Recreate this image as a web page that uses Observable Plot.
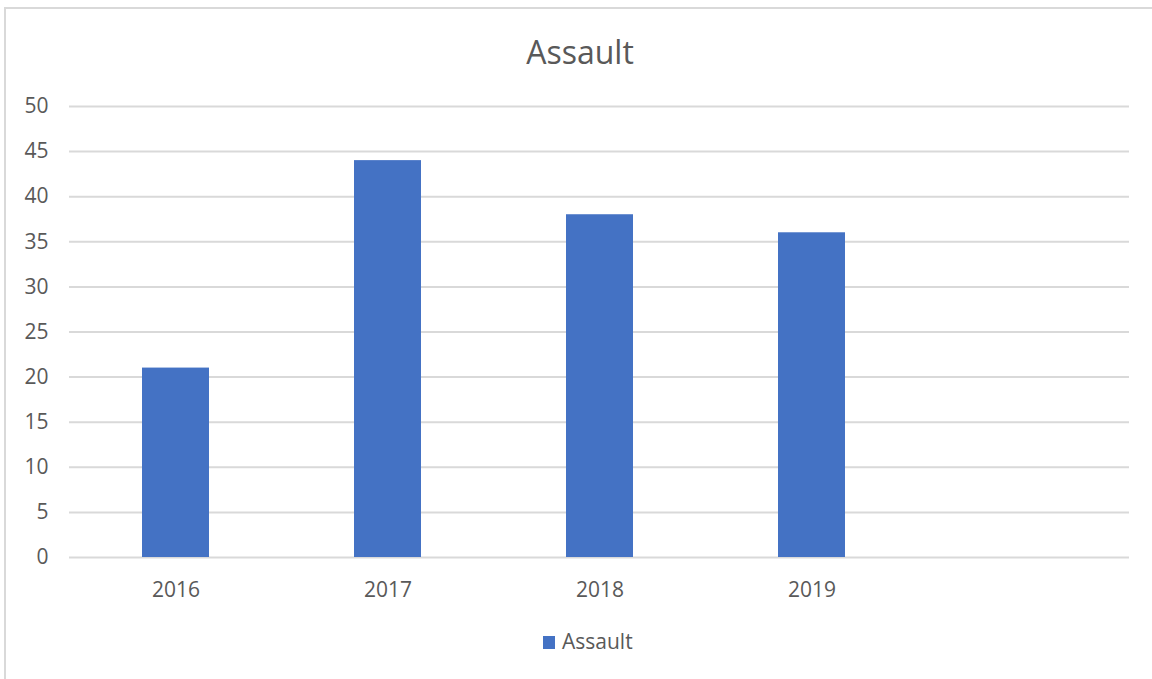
<!DOCTYPE html>
<html>
<head>
<meta charset="utf-8">
<script src="https://cdn.jsdelivr.net/npm/d3@7"></script>
<script src="https://cdn.jsdelivr.net/npm/@observablehq/plot@0.6"></script>
<style>
  html, body { margin: 0; padding: 0; background: #fff; }
  body { width: 1152px; height: 679px; overflow: hidden; position: relative; font-family: "Open Sans", sans-serif; color: #595959; }
  #frame { position: absolute; left: 4px; top: 7px; width: 1200px; height: 700px; border-left: 2px solid #d9d9d9; border-top: 2px solid #d9d9d9; }
  #title { position: absolute; left: 0; top: 36px; width: 1160px; text-align: center; font-size: 32px; line-height: 32px; }
  #chart { position: absolute; left: 0; top: 80px; }
  #legend-swatch { position: absolute; left: 543px; top: 636px; width: 12px; height: 13px; background: #4472C4; }
  #legend-label { position: absolute; left: 562px; top: 631px; font-size: 21px; line-height: 21px; }
</style>
</head>
<body>
<div id="frame"></div>
<div id="title">Assault</div>
<div id="chart"></div>
<div id="legend-swatch"></div>
<div id="legend-label">Assault</div>
<script>
const categories = ["2016", "2017", "2018", "2019", ""];
const years = ["2016", "2017", "2018", "2019"];
const assault = [21, 44, 38, 36];
const yTicks = [0, 5, 10, 15, 20, 25, 30, 35, 40, 45, 50];

const data = years.map((y, i) => ({year: y, value: assault[i]}));

const chart = Plot.plot({
  width: 1152,
  height: 545,
  marginLeft: 69,
  marginRight: 23,
  marginTop: 26,
  marginBottom: 68,
  style: {fontFamily: "'Open Sans', sans-serif", fontSize: "21px", color: "#595959", background: "transparent"},
  x: {domain: categories, paddingInner: 0.684, paddingOuter: 0.342, label: null, tickSize: 0, tickPadding: 25},
  y: {domain: [0, 50], ticks: yTicks, label: null, tickSize: 0, tickPadding: 21},
  marks: [
    Plot.ruleY(yTicks, {stroke: "#d9d9d9", strokeWidth: 2}),
    Plot.barY(data, {x: "year", y: "value", fill: "#4472C4"})
  ]
});
document.getElementById("chart").appendChild(chart);
</script>
</body>
</html>
